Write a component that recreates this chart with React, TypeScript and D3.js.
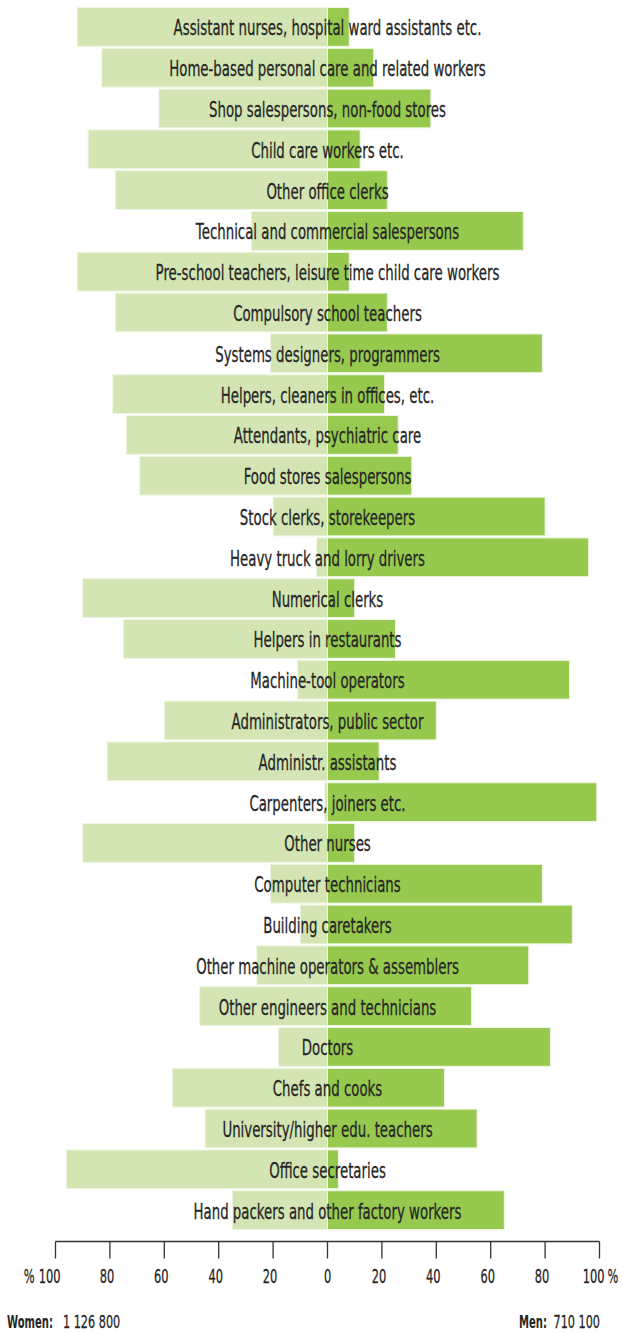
import React, { useLayoutEffect, useRef, useState } from "react";
import * as d3 from "d3";

const categories = [
  "Assistant nurses, hospital ward assistants etc.",
  "Home-based personal care and related workers",
  "Shop salespersons, non-food stores",
  "Child care workers etc.",
  "Other office clerks",
  "Technical and commercial salespersons",
  "Pre-school teachers, leisure time child care workers",
  "Compulsory school teachers",
  "Systems designers, programmers",
  "Helpers, cleaners in offices, etc.",
  "Attendants, psychiatric care",
  "Food stores salespersons",
  "Stock clerks, storekeepers",
  "Heavy truck and lorry drivers",
  "Numerical clerks",
  "Helpers in restaurants",
  "Machine-tool operators",
  "Administrators, public sector",
  "Administr. assistants",
  "Carpenters, joiners etc.",
  "Other nurses",
  "Computer technicians",
  "Building caretakers",
  "Other machine operators & assemblers",
  "Other engineers and technicians",
  "Doctors",
  "Chefs and cooks",
  "University/higher edu. teachers",
  "Office secretaries",
  "Hand packers and other factory workers",
];

const womenPct = [92, 83, 62, 88, 78, 28, 92, 78, 21, 79, 74, 69, 20, 4, 90, 75, 11, 60, 81, 1, 90, 21, 10, 26, 47, 18, 57, 45, 96, 35];
const menPct = [8, 17, 38, 12, 22, 72, 8, 22, 79, 21, 26, 31, 80, 96, 10, 25, 89, 40, 19, 99, 10, 79, 90, 74, 53, 82, 43, 55, 4, 65];

const tickValues = [-100, -80, -60, -40, -20, 0, 20, 40, 60, 80, 100];
const womenLabel = "Women:";
const womenTotal = "1 126 800";
const menLabel = "Men:";
const menTotal = "710 100";

const W = 622;
const H = 1333;
const FONT = "'DejaVu Sans', sans-serif";
const WOMEN_COLOR = "#d2e5b3";
const MEN_COLOR = "#97c94f";
const TEXT_COLOR = "#262626";
const LABEL_SIZE = 21;
const TICK_SIZE = 20;
const FOOT_SIZE = 18;

// target rendered widths (px) used to fit the condensed look of the original typeface
const LABEL_FIT = { text: categories[6], width: 344 };
const TICK_FIT = { text: "80", width: 14.5 };
const NUM_FIT = { text: menTotal, width: 46.5 };
const BOLD_FIT = { text: womenLabel, width: 46 };

export default function App() {
  const mLabel = useRef<SVGTextElement>(null);
  const mTick = useRef<SVGTextElement>(null);
  const mNum = useRef<SVGTextElement>(null);
  const mBold = useRef<SVGTextElement>(null);
  const [sc, setSc] = useState({ label: 0.7, tick: 0.6, num: 0.6, bold: 0.55 });

  useLayoutEffect(() => {
    const a = mLabel.current?.getComputedTextLength() || 0;
    const t = mTick.current?.getComputedTextLength() || 0;
    const b = mNum.current?.getComputedTextLength() || 0;
    const c = mBold.current?.getComputedTextLength() || 0;
    if (a > 0 && b > 0 && c > 0 && t > 0) {
      setSc({
        label: LABEL_FIT.width / a,
        tick: TICK_FIT.width / t,
        num: NUM_FIT.width / b,
        bold: BOLD_FIT.width / c,
      });
    }
  }, []);

  const x = d3.scaleLinear().domain([-100, 100]).range([55.5, 599.5]);
  const y = d3
    .scaleBand<string>()
    .domain(categories)
    .range([6.5, 1230.5])
    .paddingInner(0.05)
    .paddingOuter(0.025);
  const axisY = 1241.5;
  const tickLabelY = 1283;
  const footerY = 1328;
  const x0 = x(0);

  const tickLabelX = (t: number) => {
    if (t === 0) return x(t);
    if (Math.abs(t) === 100) return x(t) - 6;
    return x(t) - 3;
  };

  const heavy = { stroke: TEXT_COLOR, strokeWidth: 0.3 };

  return (
    <svg
      width={W}
      height={H}
      style={{ position: "absolute", left: 0, top: 0, background: "#fff" }}
      fontFamily={FONT}
    >
      <g visibility="hidden">
        <text ref={mLabel} fontSize={LABEL_SIZE}>{LABEL_FIT.text}</text>
        <text ref={mTick} fontSize={TICK_SIZE}>{TICK_FIT.text}</text>
        <text ref={mNum} fontSize={FOOT_SIZE}>{NUM_FIT.text}</text>
        <text ref={mBold} fontSize={FOOT_SIZE} fontWeight="bold">{BOLD_FIT.text}</text>
      </g>
      {categories.map((c, i) => {
        const yy = y(c)!;
        const bh = y.bandwidth();
        return (
          <g key={c}>
            <rect
              x={x(-womenPct[i])}
              y={yy}
              width={x0 - x(-womenPct[i])}
              height={bh}
              fill={WOMEN_COLOR}
              stroke="#eef6e4"
              strokeWidth={1}
            />
            <rect
              x={x0}
              y={yy}
              width={x(menPct[i]) - x0}
              height={bh}
              fill={MEN_COLOR}
              stroke="#eef6e4"
              strokeWidth={1}
            />
          </g>
        );
      })}
      {categories.map((c) => {
        const cy = y(c)! + y.bandwidth() / 2 + 8.5;
        return (
          <text
            key={"t" + c}
            transform={`translate(${x0},${cy}) scale(${sc.label},1)`}
            textAnchor="middle"
            fontSize={LABEL_SIZE}
            fill={TEXT_COLOR}
            {...heavy}
          >
            {c}
          </text>
        );
      })}
      <line x1={x(-100)} x2={x(100)} y1={axisY} y2={axisY} stroke="#333" strokeWidth={1.3} />
      {tickValues.map((t) => (
        <g key={"k" + t}>
          <line x1={x(t)} x2={x(t)} y1={axisY} y2={axisY + 17} stroke="#333" strokeWidth={1.3} />
          <text
            transform={`translate(${tickLabelX(t)},${tickLabelY}) scale(${sc.tick},1)`}
            textAnchor="middle"
            fontSize={TICK_SIZE}
            fill={TEXT_COLOR}
            {...heavy}
          >
            {Math.abs(t)}
          </text>
        </g>
      ))}
      <text
        transform={`translate(${x(-100) - 21},${tickLabelY}) scale(${sc.tick},1)`}
        textAnchor="end"
        fontSize={TICK_SIZE}
        fill={TEXT_COLOR}
        {...heavy}
      >
        %
      </text>
      <text
        transform={`translate(${x(100) + 8},${tickLabelY}) scale(${sc.tick},1)`}
        textAnchor="start"
        fontSize={TICK_SIZE}
        fill={TEXT_COLOR}
        {...heavy}
      >
        %
      </text>
      <text
        transform={`translate(7,${footerY}) scale(${sc.bold},1)`}
        textAnchor="start"
        fontSize={FOOT_SIZE}
        fontWeight="bold"
        fill={TEXT_COLOR}
      >
        {womenLabel}
      </text>
      <text
        transform={`translate(63,${footerY}) scale(${sc.num},1)`}
        textAnchor="start"
        fontSize={FOOT_SIZE}
        fill={TEXT_COLOR}
        {...heavy}
      >
        {womenTotal}
      </text>
      <text
        transform={`translate(547,${footerY}) scale(${sc.bold},1)`}
        textAnchor="end"
        fontSize={FOOT_SIZE}
        fontWeight="bold"
        fill={TEXT_COLOR}
      >
        {menLabel}
      </text>
      <text
        transform={`translate(600,${footerY}) scale(${sc.num},1)`}
        textAnchor="end"
        fontSize={FOOT_SIZE}
        fill={TEXT_COLOR}
        {...heavy}
      >
        {menTotal}
      </text>
    </svg>
  );
}
